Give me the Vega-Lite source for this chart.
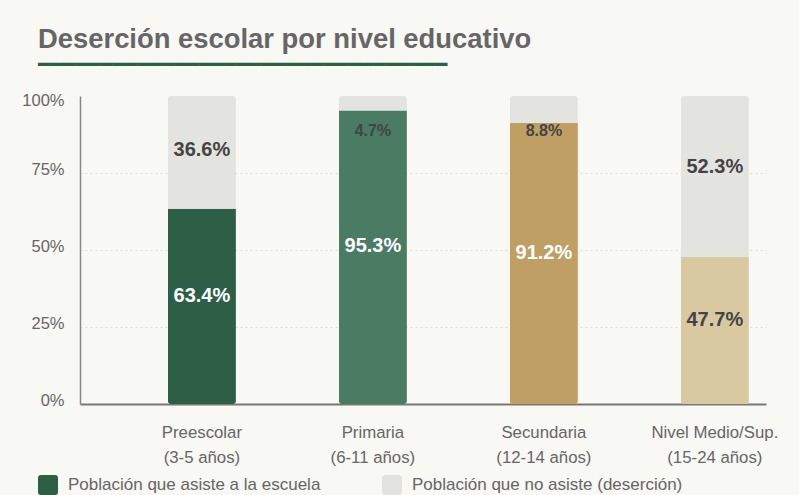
{
  "$schema": "https://vega.github.io/schema/vega-lite/v6.json",
  "width": 686,
  "height": 308,
  "autosize": {"type": "none"},
  "padding": {"left": 80, "top": 96, "right": 33, "bottom": 91},
  "background": "#f8f8f4",
  "title": {
    "text": "Deserción escolar por nivel educativo",
    "subtitle": "▔▔▔▔▔▔▔▔▔▔▔▔▔▔▔▔▔▔▔▔▔▔▔▔▔▔▔▔▔▔▔▔▔",
    "anchor": "start",
    "frame": "group",
    "dx": -42,
    "offset": 5,
    "font": "Liberation Sans",
    "fontSize": 27.4,
    "fontWeight": "bold",
    "color": "#666666",
    "subtitleFont": "DejaVu Sans Mono",
    "subtitleFontSize": 20.6,
    "subtitleColor": "#2d5e46",
    "subtitlePadding": 13
  },
  "config": {
    "view": {"stroke": null},
    "font": "Liberation Sans"
  },
  "data": {
    "values": [
      {"nivel": "Preescolar|(3-5 años)", "tipo": "Asiste", "valor": 63.4, "grupo": "Población que asiste a la escuela", "orden": 1},
      {"nivel": "Preescolar|(3-5 años)", "tipo": "No asiste", "valor": 36.6, "grupo": "Población que no asiste (deserción)", "orden": 2},
      {"nivel": "Primaria|(6-11 años)", "tipo": "Asiste", "valor": 95.3, "grupo": "Primaria asiste", "orden": 1},
      {"nivel": "Primaria|(6-11 años)", "tipo": "No asiste", "valor": 4.7, "grupo": "Población que no asiste (deserción)", "orden": 2},
      {"nivel": "Secundaria|(12-14 años)", "tipo": "Asiste", "valor": 91.2, "grupo": "Secundaria asiste", "orden": 1},
      {"nivel": "Secundaria|(12-14 años)", "tipo": "No asiste", "valor": 8.8, "grupo": "Población que no asiste (deserción)", "orden": 2},
      {"nivel": "Nivel Medio/Sup.|(15-24 años)", "tipo": "Asiste", "valor": 47.7, "grupo": "Medio asiste", "orden": 1},
      {"nivel": "Nivel Medio/Sup.|(15-24 años)", "tipo": "No asiste", "valor": 52.3, "grupo": "Población que no asiste (deserción)", "orden": 2}
    ]
  },
  "encoding": {
    "x": {
      "field": "nivel",
      "type": "nominal",
      "sort": null,
      "scale": {"paddingInner": 0.602, "paddingOuter": 0.307, "align": 0.837},
      "axis": {
        "title": null,
        "labelAngle": 0,
        "labelExpr": "split(datum.label, '|')",
        "labelFontSize": 16.8,
        "labelColor": "#666666",
        "labelPadding": 20,
        "labelLineHeight": 25,
        "ticks": false,
        "domainColor": "#777777",
        "domainWidth": 2
      }
    }
  },
  "layer": [
    {
      "mark": {"type": "bar", "cornerRadius": 3},
      "encoding": {
        "y": {
          "field": "valor",
          "type": "quantitative",
          "stack": "zero",
          "scale": {"domain": [0, 100], "nice": false},
          "axis": {
            "title": null,
            "values": [0, 25, 50, 75, 100],
            "labelExpr": "datum.value + '%'",
            "labelFontSize": 16.5,
            "labelColor": "#666666",
            "labelPadding": 16,
            "labelOffset": {"condition": {"test": "datum.value == 100", "value": 4}, "value": -4},
            "ticks": false,
            "domainColor": "#888888",
            "domainWidth": 1.5,
            "grid": true,
            "gridColor": "#dcdcd8",
            "gridDash": [2, 3],
            "gridOpacity": {"condition": {"test": "datum.value == 100 || datum.value == 0", "value": 0}, "value": 1}
          }
        },
        "order": {"field": "orden", "type": "quantitative"},
        "color": {
          "field": "grupo",
          "type": "nominal",
          "scale": {
            "domain": ["Población que asiste a la escuela", "Población que no asiste (deserción)", "Primaria asiste", "Secundaria asiste", "Medio asiste"],
            "range": ["#2d5e46", "#e3e3df", "#4a7b63", "#bf9f63", "#d8c9a1"]
          },
          "legend": {
            "values": ["Población que asiste a la escuela", "Población que no asiste (deserción)"],
            "title": null,
            "orient": "none",
            "legendX": -42,
            "legendY": 379,
            "direction": "horizontal",
            "symbolType": "M -0.7 -1 L 0.7 -1 Q 1 -1 1 -0.7 L 1 0.7 Q 1 1 0.7 1 L -0.7 1 Q -1 1 -1 0.7 L -1 -0.7 Q -1 -1 -0.7 -1 Z",
            "symbolSize": 400,
            "symbolStrokeWidth": 0,
            "symbolOpacity": 1,
            "labelFontSize": 17,
            "labelColor": "#666666",
            "labelOffset": 10,
            "labelLimit": 400,
            "columnPadding": 61
          }
        }
      }
    },
    {
      "transform": [
        {"calculate": "datum.tipo == 'Asiste' ? datum.valor / 2 + 3.5 : min(95.3 - 0.35 * datum.valor, 88.5)", "as": "label_y"},
        {"calculate": "format(datum.valor, '.1f') + '%'", "as": "etiqueta"}
      ],
      "mark": {"type": "text", "fontWeight": "bold", "baseline": "middle", "align": "center"},
      "encoding": {
        "y": {"field": "label_y", "type": "quantitative"},
        "text": {"field": "etiqueta"},
        "size": {"condition": {"test": "datum.valor < 10", "value": 16}, "value": 20},
        "color": {"condition": {"test": "datum.tipo == 'Asiste' && indexof(datum.nivel, 'Medio') < 0", "value": "#ffffff"}, "value": "#444444"}
      }
    }
  ]
}
